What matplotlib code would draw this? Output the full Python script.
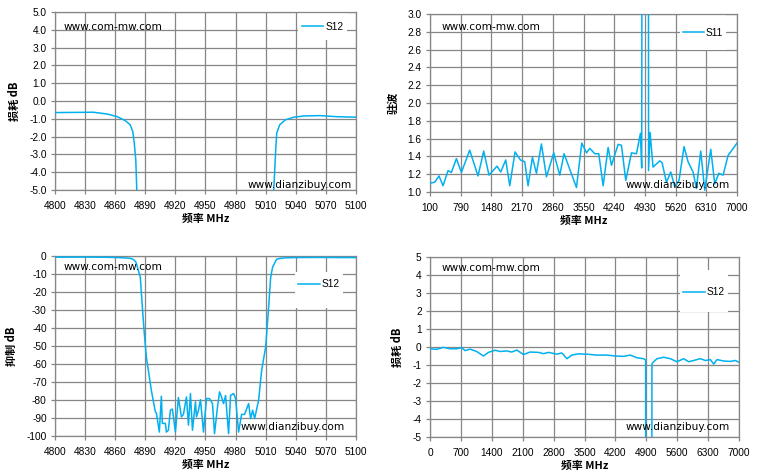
import numpy as np
import matplotlib.pyplot as plt
from matplotlib.patches import Rectangle

plt.rcParams['font.family'] = ['Liberation Sans', 'Noto Sans CJK SC', 'DejaVu Sans']

# narrow band S12 (4800-5100 MHz), used by both left panels
nb_freq = [4800, 4838, 4852, 4862, 4870, 4875, 4877.5, 4879, 4880.5, 4881.5, 4883, 4885,
           4887, 4889, 4891, 4893, 4896, 4900, 4901, 4904, 4906, 4907, 4910, 4911, 4913,
           4915, 4917, 4920, 4923, 4926, 4928, 4931, 4933, 4935, 4937, 4940, 4941, 4943,
           4945, 4948, 4951, 4954, 4957, 4959, 4962, 4964, 4966, 4968, 4970, 4973, 4975,
           4978, 4980, 4983, 4986, 4989, 4993, 4995, 4997, 4999, 5003, 5006, 5010, 5013,
           5015, 5017, 5018.5, 5020, 5021, 5024, 5029.5, 5038, 5048, 5064, 5081, 5100]
nb_s12 = [-0.65, -0.63, -0.73, -0.88, -1.1, -1.34, -1.72, -2.37, -3.3, -5.0, -8.0, -11.7,
          -28, -43, -56, -63.4, -74.6, -86.6, -87.2, -97.8, -77.9, -93, -93, -97.8, -96.8,
          -85.7, -85, -97.8, -78.6, -89.4, -88, -78.3, -94, -76.4, -96.8, -81, -89.4, -85.7,
          -79.8, -97.8, -79.2, -79.2, -82, -98.7, -83.8, -75.5, -78.4, -82, -77.5, -98.7, -77.5,
          -76.4, -79.2, -97.8, -88, -88, -82, -90.3, -85.7, -90.3, -80, -63.4, -50.5, -28,
          -11.7, -6.0, -4.5, -2.74, -1.8, -1.34, -1.06, -0.91, -0.84, -0.82, -0.88, -0.91]

# wide band VSWR (100-7000 MHz)
wb_freq = [100, 206, 303, 392, 505, 580, 693, 805, 992, 1179, 1307, 1426, 1606, 1689,
           1802, 1892, 2011, 2132, 2229, 2304, 2402, 2492, 2604, 2717, 2881, 3016, 3113,
           3392, 3511, 3617, 3691, 3803, 3893, 3991, 4103, 4178, 4328, 4403, 4500, 4628,
           4740, 4830, 4858, 4878, 5005, 5012, 5046, 5113, 5263, 5315, 5414, 5511, 5601,
           5697, 5810, 5900, 6012, 6088, 6185, 6275, 6410, 6500, 6590, 6687, 6799, 6987, 7000]
wb_vswr = [1.10, 1.11, 1.18, 1.07, 1.24, 1.22, 1.375, 1.22, 1.47, 1.18, 1.46, 1.19, 1.29, 1.225,
           1.36, 1.07, 1.45, 1.36, 1.34, 1.07, 1.39, 1.21, 1.54, 1.17, 1.44, 1.19, 1.43,
           1.05, 1.55, 1.44, 1.49, 1.43, 1.43, 1.07, 1.50, 1.30, 1.535, 1.525, 1.13, 1.44,
           1.43, 1.66, 1.27, 10.0, 10.0, 1.24, 1.67, 1.28, 1.35, 1.33, 1.11, 1.225, 1.06,
           1.13, 1.51, 1.34, 1.225, 1.04, 1.46, 1.02, 1.48, 1.09, 1.21, 1.19, 1.41, 1.54, 1.55]

# wide band S12 (0-7000 MHz)
wl_freq = [0, 151, 302, 454, 605, 718, 794, 907, 1058, 1210, 1323, 1474, 1588, 1739, 1852,
           1966, 2117, 2268, 2457, 2570, 2684, 2873, 2986, 3100, 3213, 3364, 3553, 3780,
           4007, 4196, 4385, 4536, 4687, 4839, 4884, 4890, 5020, 5027, 5035, 5141, 5292,
           5443, 5594, 5746, 5859, 5972, 6123, 6237, 6350, 6426, 6501, 6653, 6804, 6917, 7000]
wl_s12 = [-0.1, -0.13, -0.02, -0.1, -0.1, -0.03, -0.2, -0.12, -0.25, -0.5, -0.3, -0.18, -0.25,
          -0.22, -0.28, -0.17, -0.42, -0.28, -0.3, -0.37, -0.3, -0.4, -0.33, -0.65, -0.45,
          -0.38, -0.4, -0.45, -0.45, -0.5, -0.52, -0.45, -0.6, -0.65, -0.72, -30, -30, -0.95,
          -0.9, -0.65, -0.57, -0.65, -0.82, -0.65, -0.82, -0.75, -0.65, -0.75, -0.7, -0.95,
          -0.7, -0.78, -0.8, -0.75, -0.85]

nb_ticks = list(range(4800, 5101, 30))
vswr_xticks = list(range(100, 7001, 690))
wl_xticks = list(range(0, 7001, 700))

blue = '#00B0F0'
gray = '#868686'
cjk = ['Noto Sans CJK SC', 'DejaVu Sans']

fig = plt.figure(figsize=(7.58, 4.75), dpi=100)

panels = [
    dict(rect=[0.0726, 0.600, 0.397, 0.3747], x=nb_freq, y=nb_s12, xt=nb_ticks,
         yt=np.arange(-5, 5.01, 1), ylim=(-5, 5), fmt='%.1f', ylabel='损耗 dB', name='S12',
         leg=(0.889, 0.918), box=(0.807, 0.843, 0.163, 0.151), top=(0.03, 0.916), bot=(0.987, 0.03)),
    dict(rect=[0.5673, 0.5958, 0.405, 0.3747], x=wb_freq, y=wb_vswr, xt=vswr_xticks,
         yt=np.arange(1.0, 3.01, 0.2), ylim=(1.0, 3.0), fmt='%.1f', ylabel='驻波', name='S11',
         leg=(0.889, 0.896), box=(0.814, 0.798, 0.15, 0.196), top=(0.036, 0.927), bot=(0.977, 0.04)),
    dict(rect=[0.0726, 0.0821, 0.397, 0.379], x=nb_freq, y=nb_s12, xt=nb_ticks,
         yt=np.arange(-100, 0.1, 10), ylim=(-100, 0), fmt='%d', ylabel='抑制 dB', name='S12',
         leg=(0.877, 0.844), box=(0.797, 0.711, 0.16, 0.2), top=(0.027, 0.937), bot=(0.963, 0.048)),
    dict(rect=[0.5673, 0.080, 0.4077, 0.379], x=wl_freq, y=wl_s12, xt=wl_xticks,
         yt=np.arange(-5, 5.01, 1), ylim=(-5, 5), fmt='%d', ylabel='损耗 dB', name='S12',
         leg=(0.887, 0.804), box=(0.81, 0.694, 0.155, 0.234), top=(0.036, 0.937), bot=(0.971, 0.053)),
]

for p in panels:
    ax = fig.add_axes(p['rect'])
    ax.plot(p['x'], p['y'], color=blue, lw=1.1, label=p['name'], zorder=3)
    ax.set_xlim(p['xt'][0], p['xt'][-1])
    ax.set_ylim(*p['ylim'])
    ax.set_xticks(p['xt'])
    ax.set_yticks(p['yt'])
    ax.set_yticklabels([p['fmt'] % v for v in p['yt']])
    ax.grid(True, color=gray, lw=0.9)
    ax.set_axisbelow(True)
    for s in ax.spines.values():
        s.set_color(gray)
        s.set_linewidth(0.9)
    ax.tick_params(labelsize=7.3, color=gray, length=3, width=0.9, pad=3)
    ax.tick_params(axis='x', pad=5)
    ax.set_xlabel('频率 MHz', family=cjk, fontsize=7.8, fontweight='bold', labelpad=2)
    ax.set_ylabel(p['ylabel'], family=cjk, fontsize=8, fontweight='bold', labelpad=6)
    bx, by, bw, bh = p['box']
    ax.add_patch(Rectangle((bx, by), bw, bh, transform=ax.transAxes, facecolor='white',
                           edgecolor='none', zorder=2))
    ax.legend(loc='center', bbox_to_anchor=p['leg'], frameon=False, fontsize=7.3,
              handlelength=2.1, handletextpad=0.2, borderpad=0)
    ax.text(p['top'][0], p['top'][1], 'www.com-mw.com', transform=ax.transAxes,
            family='DejaVu Sans', fontsize=7.6, ha='left', va='center', zorder=4)
    ax.text(p['bot'][0], p['bot'][1], 'www.dianzibuy.com', transform=ax.transAxes,
            family='DejaVu Sans', fontsize=7.6, ha='right', va='center', zorder=4)

fig.savefig('out.png', dpi=100)
